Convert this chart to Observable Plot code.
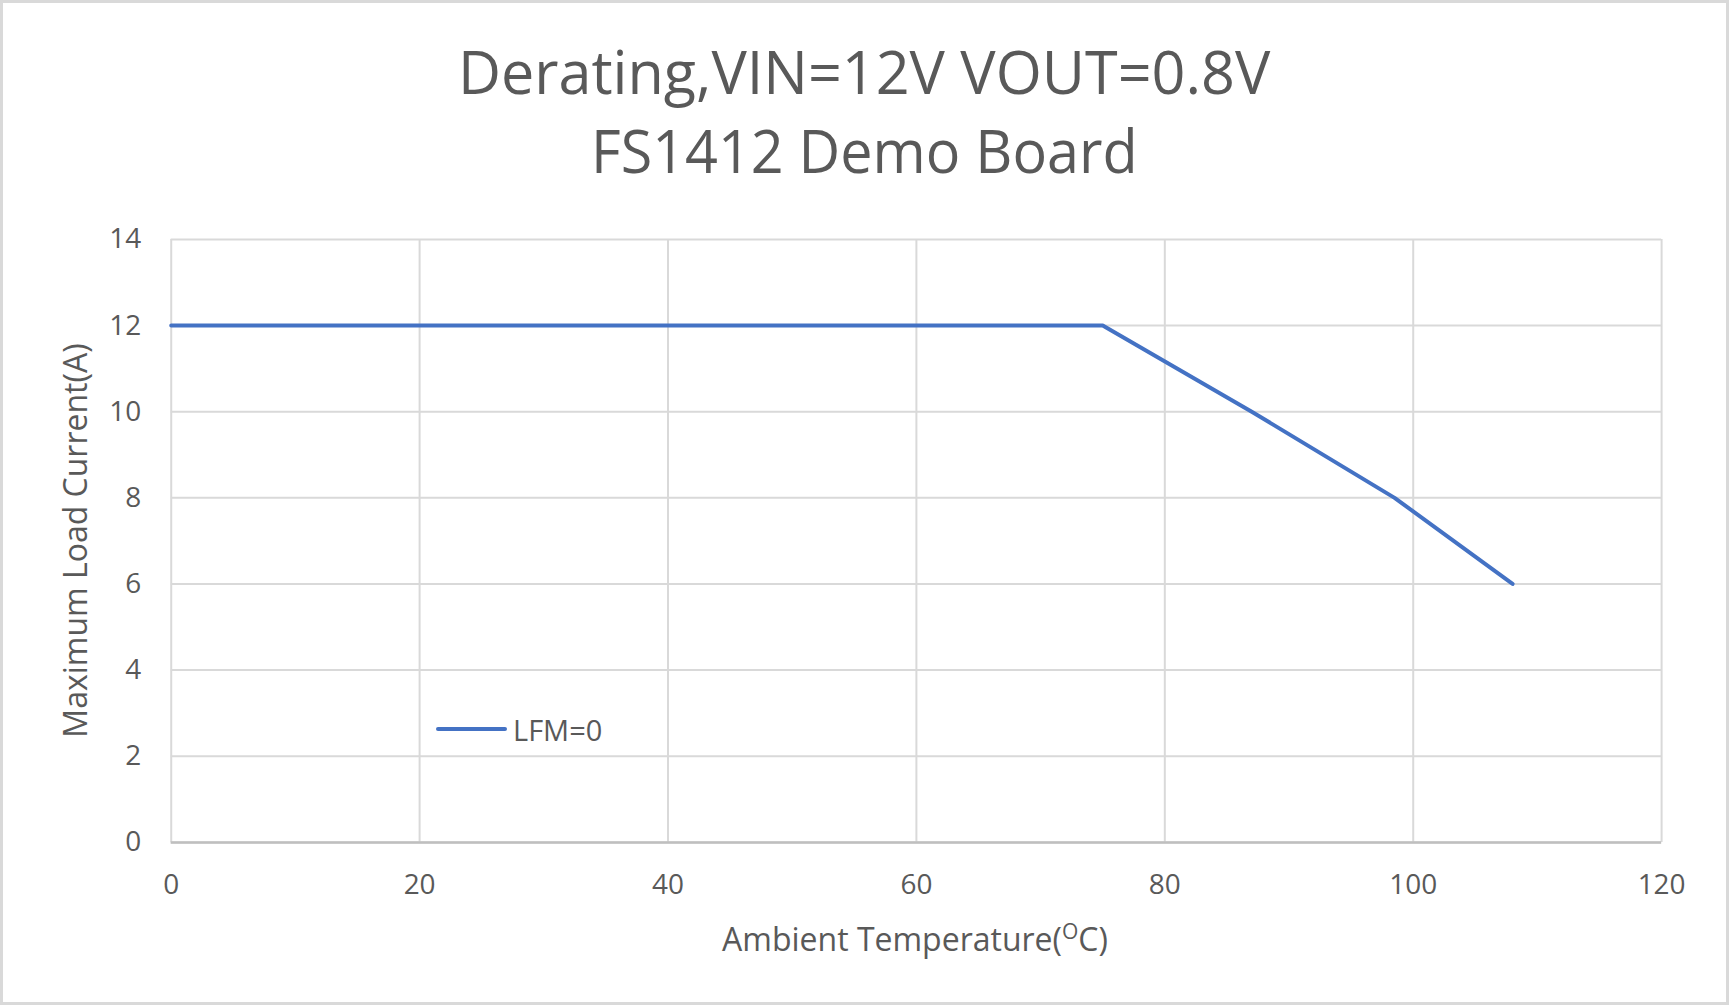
<!DOCTYPE html>
<html>
<head>
<meta charset="utf-8">
<script src="https://cdn.jsdelivr.net/npm/d3@7"></script>
<script src="https://cdn.jsdelivr.net/npm/@observablehq/plot@0.6"></script>
<style>
  html, body { margin: 0; padding: 0; background: #fff; }
  #chart { position: relative; width: 1729px; height: 1005px; box-sizing: border-box; border: 3px solid #d9d9d9; background: #fff; overflow: hidden; font-family: "Open Sans", sans-serif; color: #595959; }
  #title { position: absolute; left: 0; top: 0; width: 1723px; height: 197px; text-align: center; }
  .tline { position: absolute; left: 0; width: 100%; font-size: 60px; line-height: 1; white-space: nowrap; }
  .tline span { display: inline-block; transform-origin: center; }
  #plot { position: absolute; left: -3px; top: 197px; }
  .axtitle { position: absolute; font-size: 32px; white-space: nowrap; }
  #legend { position: absolute; font-size: 29px; display: flex; align-items: center; white-space: nowrap; }
  #legend .sw { display: inline-block; width: 71px; height: 4px; background: #4472C4; border-radius: 2px; margin-right: 6px; }
</style>
</head>
<body>
<div id="chart">
  <div id="title"></div>
  <div id="plot"></div>
  <div class="axtitle" id="xtitle"></div>
  <div class="axtitle" id="ytitle"></div>
  <div id="legend"></div>
</div>
<script>
// Data
const seriesName = "LFM=0";
const temperature = [0, 75, 87, 98.5, 108];
const maxCurrent = [12, 12, 10, 8, 6];
const xTicks = [0, 20, 40, 60, 80, 100, 120];
const yTicks = [0, 2, 4, 6, 8, 10, 12, 14];
const titleLines = ["Derating,VIN=12V VOUT=0.8V", "FS1412 Demo Board"];
const xTitle = "Ambient Temperature(";
const xTitleSup = "O";
const xTitleEnd = "C)";
const yTitle = "Maximum Load Current(A)";

const data = temperature.map((t, i) => ({ t, a: maxCurrent[i] }));

// Title
const titleEl = document.getElementById("title");
const tops = [38, 117];
const scales = [0.988, 0.958];
titleLines.forEach((s, i) => {
  const d = document.createElement("div");
  d.className = "tline";
  d.style.top = tops[i] + "px";
  const sp = document.createElement("span");
  sp.textContent = s;
  sp.style.transform = "scaleX(" + scales[i] + ")";
  d.appendChild(sp);
  titleEl.appendChild(d);
});

const W = 1729, H = 808;
const plot = Plot.plot({
  width: W,
  height: H,
  marginLeft: 171,
  marginRight: 65,
  marginTop: 39,
  marginBottom: H - 643,
  x: { domain: [0, 120] },
  y: { domain: [0, 14] },
  style: { fontFamily: "Open Sans, sans-serif", color: "#595959", background: "transparent" },
  marks: [
    Plot.gridX(xTicks, { stroke: "#d9d9d9", strokeOpacity: 1, strokeWidth: 2 }),
    Plot.gridY(yTicks, { stroke: "#d9d9d9", strokeOpacity: 1, strokeWidth: 2 }),
    Plot.ruleY([0], { stroke: "#bfbfbf", strokeWidth: 2.5 }),
    Plot.axisX(xTicks, { tickSize: 0, tickPadding: 32, fontSize: 28, label: null, fill: "#595959" }),
    Plot.axisY(yTicks, { tickSize: 0, tickPadding: 30, fontSize: 28, label: null, fill: "#595959" }),
    Plot.line(data, { x: "t", y: "a", stroke: "#4472C4", strokeWidth: 4, strokeLinecap: "round", strokeLinejoin: "round" })
  ]
});
document.getElementById("plot").appendChild(plot);

// Axis titles
const xt = document.getElementById("xtitle");
xt.appendChild(document.createTextNode(xTitle));
const sup = document.createElement("sup");
sup.textContent = xTitleSup;
sup.style.fontSize = "21px";
xt.appendChild(sup);
xt.appendChild(document.createTextNode(xTitleEnd));

const yt = document.getElementById("ytitle");
yt.textContent = yTitle;

const lg = document.getElementById("legend");
const sw = document.createElement("span");
sw.className = "sw";
lg.appendChild(sw);
lg.appendChild(document.createTextNode(seriesName));

function place() {
  const b = 3;
  const xr = xt.getBoundingClientRect();
  xt.style.left = (915 - xr.width / 2 - b) + "px";
  xt.style.top = (938 - xr.height / 2 - b) + "px";
  const yr = yt.getBoundingClientRect();
  yt.style.left = (74 - yr.width / 2 - b) + "px";
  yt.style.top = (540 - yr.height / 2 - b) + "px";
  yt.style.transform = "rotate(-90deg)";
  const lr = lg.getBoundingClientRect();
  lg.style.left = (436 - b) + "px";
  lg.style.top = (729 - lr.height / 2 - b) + "px";
}
place();
</script>
</body>
</html>
